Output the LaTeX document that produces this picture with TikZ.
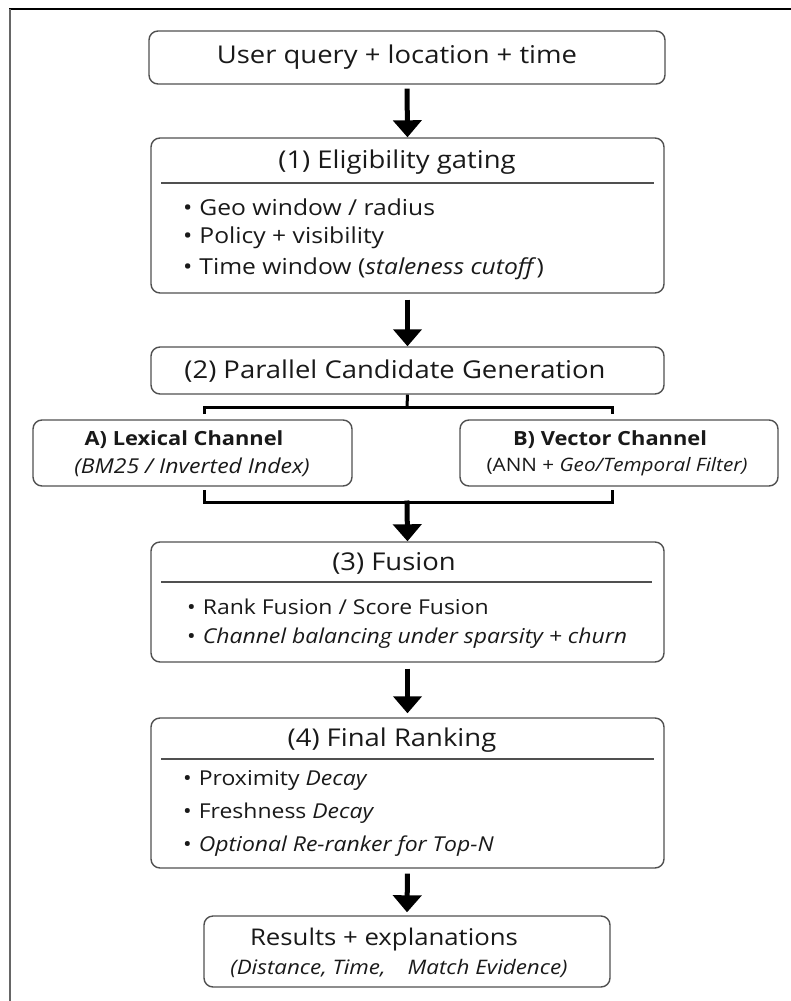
\documentclass[tikz,border=0pt]{standalone}
\usepackage{fontspec}
\setmainfont{Open Sans}[FakeStretch=1.12]
\usepackage{tikz}
\usetikzlibrary{arrows.meta,calc}
\definecolor{rahmen}{RGB}{80,80,80}
\definecolor{schrift}{RGB}{25,25,25}

\begin{document}
\begin{tikzpicture}[x=1pt,y=-1pt,schrift,
		box/.style={draw=rahmen,line width=1.4pt,rounded corners=9pt,inner sep=0pt},
		head/.style={font=\fontsize{24.5}{28}\selectfont},
		item/.style={anchor=west,font=\fontsize{20.5}{24}\selectfont,inner sep=0pt},
		chan/.style={font=\fontsize{19.5}{22}\selectfont},
		sep/.style={draw=rahmen,line width=1.4pt},
		fork/.style={line width=3pt,black},
		flow/.style={line width=5pt,black,-{Triangle[width=28pt,length=17pt]}}]
			\useasboundingbox (0,0) rectangle (791,1001);
			\draw [line width=2pt,black] (9,9) -- (791,9);
			\draw [line width=2pt,black!60] (10,9) -- (10,1001);
			\node[box,minimum width=516,minimum height=53] (query) at (407,57.5) {};
			\node[head] (querytext) at (397,57) {User query + location + time};
			\node[box,minimum width=513,minimum height=155] (gate) at (407.5,215.5) {};
			\node[head] (gatetext) at (397,162) {(1) Eligibility gating};
			\draw [sep] (161,183) -- (654,183);
			\node[item,font=\fontsize{22}{26}\selectfont] (gate1) at (183,207) {\textbullet\hspace{7pt}Geo window / radius};
			\node[item,font=\fontsize{22}{26}\selectfont] (gate2) at (183,238) {\textbullet\hspace{7pt}Policy + visibility};
			\node[item,font=\fontsize{22}{26}\selectfont] (gate3) at (183,269) {\textbullet\hspace{7pt}Time window (\textit{staleness cutoff})};
			\node[box,minimum width=513,minimum height=47] (cand) at (407.5,370.5) {};
			\node[head] (candtext) at (395,371) {(2) Parallel Candidate Generation};
			\node[box,minimum width=319,minimum height=66] (lex) at (192.5,453) {};
			\node[chan] (lextext) at (184,440) {\bfseries A) Lexical Channel};
			\node[chan] (lexsub) at (192,467) {\fontsize{20.5}{24}\selectfont\itshape (BM25 / Inverted Index)};
			\node[box,minimum width=318,minimum height=66] (vec) at (619,453) {};
			\node[chan] (vectext) at (610,440) {\bfseries B) Vector Channel};
			\node[chan] (vecsub) at (617,467) {\fontsize{18.5}{22}\selectfont(ANN + \textit{Geo/Temporal Filter)}};
			\node[box,minimum width=513,minimum height=120] (fusion) at (407.5,602) {};
			\node[head] (fusiontext) at (394,563) {(3) Fusion};
			\draw [sep] (161,582) -- (652,582);
			\node[item] (fusion1) at (187,607) {\textbullet\hspace{7pt}Rank Fusion / Score Fusion};
			\node[item] (fusion2) at (187,638) {\textbullet\hspace{7pt}\textit{Channel balancing under sparsity + churn}};
			\node[box,minimum width=513,minimum height=150] (rank) at (407.5,793) {};
			\node[head] (ranktext) at (392,740) {(4) Final Ranking};
			\draw [sep] (161,759) -- (654,759);
			\node[item] (rank1) at (183,780) {\textbullet\hspace{7pt}Proximity \textit{Decay}};
			\node[item] (rank2) at (183,813) {\textbullet\hspace{7pt}Freshness \textit{Decay}};
			\node[item] (rank3) at (183,846) {\textbullet\hspace{7pt}\textit{Optional Re-ranker for Top-N}};
			\node[box,minimum width=406,minimum height=71] (result) at (407,951.5) {};
			\node[font=\fontsize{23}{27}\selectfont] (resulttext) at (384,940) {Results + explanations};
			\node[font=\fontsize{20}{24}\selectfont] (resultsub) at (399,968) {\itshape (Distance, Time,\hspace{22pt}Match Evidence)};
			\coordinate (split) at (407,407);
			\coordinate (lexin) at (204,414);
			\coordinate (vecin) at (612,414);
			\coordinate (lexout) at (204,490);
			\coordinate (vecout) at (612,490);
			\coordinate (join) at (407,502);
			\draw [flow,shorten <=4pt] (query.south) -- (gate.north);
			\draw [flow,shorten <=6pt] (gate.south) -- (cand.north);
			\draw [fork] (cand.south) -- (split);
			\draw [fork] (lexin) |- (split) -| (vecin);
			\draw [fork] (lexout) |- (join) -| (vecout);
			\draw [flow,shorten <=-1.5pt] (join) -- (fusion.north);
			\draw [flow,shorten <=6pt,shorten >=4pt] (fusion.south) -- (rank.north);
			\draw [flow,shorten <=5pt,shorten >=3pt] (rank.south) -- (result.north);
		\end{tikzpicture}
\end{document}
